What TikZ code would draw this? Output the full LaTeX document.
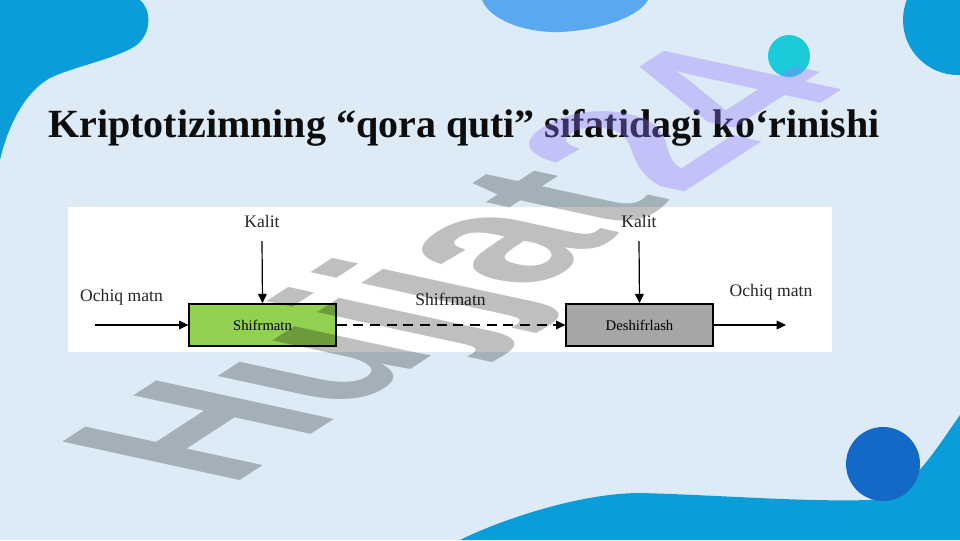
\documentclass[tikz,border=0pt]{standalone}
\usepackage{fontspec}
\setmainfont{Liberation Serif}
\newfontfamily\wmfont{Liberation Sans}
\usetikzlibrary{arrows.meta,positioning}

\definecolor{slidebg}{HTML}{DCEBF5}
\definecolor{blobblue}{HTML}{0A9DD9}
\definecolor{skyblob}{HTML}{5AA8F0}
\definecolor{tealdot}{HTML}{1CCBD9}
\definecolor{deepdot}{HTML}{1468C6}
\definecolor{boxgreen}{HTML}{92D050}
\definecolor{boxgray}{HTML}{A6A6A6}
\definecolor{wmlav}{HTML}{9678FF}

\begin{document}
\begin{tikzpicture}[x=0.75pt, y=-0.75pt,
	blk/.style={draw=black, line width=1.2pt, minimum width=110pt, minimum height=31.5pt,
		inner sep=0pt, font=\fontsize{11}{13}\selectfont},
	lbl/.style={anchor=base, inner sep=0pt, text=black!85, font=\fontsize{13.2}{15}\selectfont},
	arr/.style={line width=0.9pt, -{Triangle[length=7pt,width=6.5pt]}},
	wm/.style={transform shape, anchor=base west, inner sep=0pt,
		font=\wmfont\fontsize{10}{12}\selectfont\bfseries}]
\useasboundingbox (0,0) rectangle (960,540);
\fill[slidebg] (0,0) rectangle (960,540);
% corner shapes
\fill[blobblue] (0,0) -- (140,0) .. controls (150,8) and (153,30) .. (138,44)
	.. controls (120,58) and (75,66) .. (50,78) .. controls (25,92) and (8,125) .. (0,160) -- cycle;
\fill[skyblob] (482,0) .. controls (490,20) and (525,33) .. (560,32)
	.. controls (605,30) and (640,15) .. (648,0) -- cycle;
\fill[blobblue] (958,20) circle (55);
\fill[tealdot] (789,56) circle (21);
\fill[blobblue] (460,540) .. controls (500,520) and (580,493) .. (640,493)
	.. controls (720,495) and (800,502) .. (870,500) .. controls (910,495) and (935,450) .. (960,415)
	-- (960,540) -- cycle;
\fill[deepdot] (883,464) circle (37);

\node[anchor=base west, inner sep=0pt, text=black!95,
	font=\fontsize{30}{36}\selectfont\bfseries] (title) at (48,137)
	{Kriptotizimning “qora quti” sifatidagi ko‘rinishi};

% diagram
\fill[white] (68,207) rectangle (832,352);
\node[blk, fill=boxgreen] (shifr) at (262.5,325) {Shifrmatn};
\node[blk, fill=boxgray] (deshifr) at (639.5,325) {Deshifrlash};
\node[lbl] (kalitA) at (262,227) {Kalit};
\node[lbl] (kalitB) at (639,227) {Kalit};
\node[lbl] (ochiqA) at (121.5,301.5) {Ochiq matn};
\node[lbl] (shifrm) at (450.5,305) {Shifrmatn};
\node[lbl] (ochiqB) at (771,296.5) {Ochiq matn};
\coordinate (kA) at (262,241);
\coordinate (kB) at (639,241);
\coordinate (inL) at (95,325);
\coordinate (outR) at (786,325);
\draw[arr] (kA) to (shifr.north);
\draw[arr] (kB) to (deshifr.north);
\draw[arr] (inL) to (shifr.west);
\draw[arr, dash pattern=on 7.5pt off 5pt] (shifr.east) to (deshifr.west);
\draw[arr] (deshifr.east) to (outR);

% watermark
\begin{scope}[shift={(226,490)}, cm={12,7.8,-19.35,4.2,(0,0)}]
\node[wm, text=black, text opacity=0.25] (wmA) at (0,0) {Hujjat};
\node[wm, text=wmlav, text opacity=0.35] (wmB) at (wmA.base east) {24};
\end{scope}
\end{tikzpicture}
\end{document}
